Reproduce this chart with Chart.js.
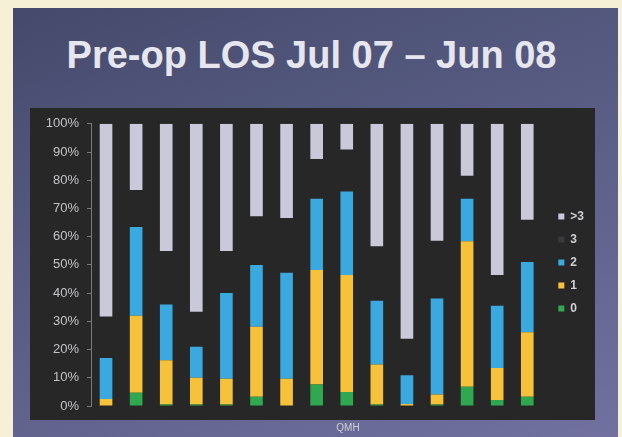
<!DOCTYPE html>
<html>
<head>
<meta charset="utf-8">
<script src="https://cdn.jsdelivr.net/npm/chart.js@4/dist/chart.umd.min.js"></script>
<style>
  html, body { margin: 0; padding: 0; }
  body { width: 622px; height: 437px; background: #f6f1d6; position: relative; overflow: hidden; font-family: "Liberation Sans", Arial, sans-serif; }
  #slide { position: absolute; left: 13px; top: 8px; width: 605px; height: 440px;
           background: linear-gradient(160deg, #454a6c 0%, #585c83 45%, #7271a1 100%); }
  #title { position: absolute; left: 9px; width: 605px; top: 34px; text-align: center;
           color: #e6e6ee; font-weight: bold; font-size: 38px; }
  #panel { position: absolute; left: 30px; top: 108px; width: 565px; height: 312px; background: #272727; }
  #wrap { position: absolute; left: 30px; top: 108px; width: 565px; height: 329px; }
  #xname { position: absolute; left: 318px; width: 60px; top: 422px; text-align: center; color: #cfcfd6; font-size: 10px; }
</style>
</head>
<body>
<div id="slide"></div>
<div id="title">Pre-op LOS Jul 07 – Jun 08</div>
<div id="panel"></div>
<div id="wrap"><canvas id="chart"></canvas></div>
<div id="xname">QMH</div>
<script>
// --- Data (percent of cases per bar) ---
const categories = ['1','2','3','4','5','6','7','8','9','10','11','12','13','14','15'];
const los0    = [0,   4.7, 0.5, 0.5, 0.5, 3.3, 0,    7.6, 5,    0.5, 0,    0.5, 6.8, 2.1, 3.3];
const los1    = [2.5, 27.3,15.7,9.5, 9.2, 24.8,9.7, 40.6, 41.4, 14.2, 0.7, 3.6, 51.6,11.4,22.8];
const los2    = [14.5,31.4,19.8,11,  30.3,21.9,37.5,25.2, 29.6, 22.6, 10.2,34,  15,  22,  24.9];
const los3    = [14.7,13.1,18.9,12.4,14.9,17.2,19.4,14.1, 14.9, 19.3, 12.9,20.5,8.2, 10.9,15];
const losOver3= [68.3,23.5,45.1,66.6,45.1,32.8,33.4,12.5, 9.1,  43.4, 76.2,41.4,18.4,53.6,34];
const yTicks  = [0,10,20,30,40,50,60,70,80,90,100];

const txt = '#cfcfd6';

// nudge the legend to where it sits on the slide
const legendNudge = {
  id: 'legendNudge',
  afterLayout(chart) {
    chart.legend.left += 5;
    chart.legend.bottom -= 34;
  }
};

new Chart(document.getElementById('chart'), {
  type: 'bar',
  data: {
    labels: categories,
    datasets: [
      { label: '0',  data: los0,     backgroundColor: '#2fa84f' },
      { label: '1',  data: los1,     backgroundColor: '#f5c23a' },
      { label: '2',  data: los2,     backgroundColor: '#3aa9df' },
      { label: '3',  data: los3,     backgroundColor: 'rgba(0,0,0,0)' },
      { label: '>3', data: losOver3, backgroundColor: '#c9c9da' }
    ]
  },
  plugins: [legendNudge],
  options: {
    responsive: true,
    maintainAspectRatio: false,
    animation: false,
    barPercentage: 0.42,
    categoryPercentage: 1,
    layout: { padding: { top: 14, right: 6, left: 0, bottom: 0 } },
    plugins: {
      legend: {
        position: 'right',
        reverse: true,
        labels: {
          color: txt, boxWidth: 6, boxHeight: 6, padding: 11,
          font: { family: 'Liberation Sans', size: 12, weight: 'bold' },
          generateLabels(chart) {
            const items = Chart.defaults.plugins.legend.labels.generateLabels(chart);
            items.forEach(it => {
              it.strokeStyle = 'rgba(0,0,0,0)'; it.lineWidth = 0;
              if (it.text === '3') it.fillStyle = '#3a3a3a';
            });
            return items;
          }
        }
      },
      tooltip: { enabled: false }
    },
    scales: {
      x: {
        stacked: true,
        grid: { display: false },
        border: { display: false },
        ticks: { display: false },
        afterFit(s) { s.height = 31; }
      },
      y: {
        stacked: true,
        min: 0, max: 100,
        afterBuildTicks(s) { s.ticks = yTicks.map(v => ({ value: v })); },
        grid: { drawOnChartArea: false, drawTicks: true, tickLength: 4, color: '#7a7a7a' },
        border: { display: true, color: '#7a7a7a' },
        ticks: { color: '#c4c4c8', padding: 8, font: { family: 'Liberation Sans', size: 13 }, callback: v => v + '%' },
        afterFit(s) { s.width = 61; }
      }
    }
  }
});
</script>
</body>
</html>
